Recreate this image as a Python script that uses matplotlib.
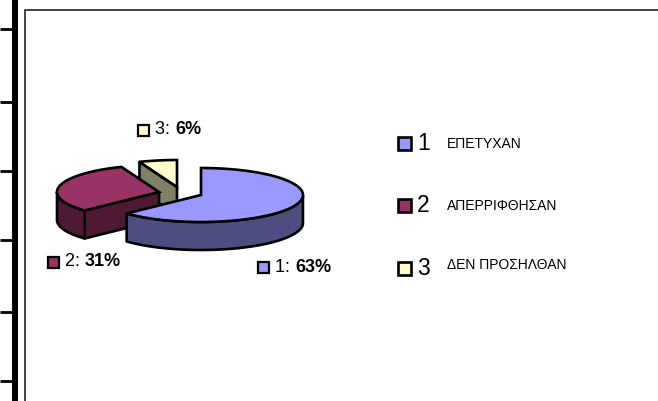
import numpy as np
import matplotlib
matplotlib.use('Agg')
import matplotlib.pyplot as plt
from matplotlib.patches import Polygon, Rectangle

plt.rcParams['font.family'] = ['Liberation Sans', 'DejaVu Sans']

categories = ['1', '2', '3']
names = ['ΕΠΕΤΥΧΑΝ', 'ΑΠΕΡΡΙΦΘΗΣΑΝ', 'ΔΕΝ ΠΡΟΣΗΛΘΑΝ']
percent = [63, 31, 6]
colors = ['#9999FF', '#993366', '#FFFFCC']
dark = ['#4D4D80', '#4D1933', '#808066']
# exploded slice centres, in pixels
centres = [(201, 195), (159, 192), (177, 187)]
label_pos = [(258, 267), (48, 262), (138, 130)]
legend_y = [143, 205, 268]
name_y = [144, 206, 265]
tick_y = [29, 102, 171, 240, 312, 381]

RX, RY, DEPTH = 102, 27, 28

fig = plt.figure(figsize=(6.58, 4.01), dpi=100)
ax = fig.add_axes([0, 0, 1, 1])
ax.set_xlim(0, 658)
ax.set_ylim(401, 0)
ax.axis('off')

# page furniture
ax.add_patch(Rectangle((12, 0), 6, 401, fc='black', ec='none'))
for y in tick_y:
    ax.plot([0, 12], [y, y], color='black', lw=2, solid_capstyle='butt')
ax.plot([25, 25, 658], [401, 9.5, 9.5], color='#222222', lw=1.2)


def pt(c, a, dz=0):
    return (c[0] + RX * np.sin(a), c[1] - RY * np.cos(a) + dz)


# clockwise from 12 o'clock
edges = np.cumsum([0] + percent) / sum(percent) * 2 * np.pi
order = [2, 1, 0]
for i in order:
    c = centres[i]
    a0, a1 = edges[i], edges[i + 1]
    arc = np.linspace(a0, a1, 120)
    z = 2 + (2 - i)
    # cut face, seen on the slices left of the centre
    if i in (1, 2):
        face = [c, pt(c, a0), pt(c, a0, DEPTH), (c[0], c[1] + DEPTH)]
        ax.add_patch(Polygon(face, fc=dark[i], ec='black', lw=1.9, joinstyle='round', zorder=z))
    # outer rim, only the front half of the ellipse
    front = arc[(np.cos(arc) <= 0)]
    if len(front) > 1:
        top = [pt(c, a) for a in front]
        low = [pt(c, a, DEPTH) for a in front[::-1]]
        ax.add_patch(Polygon(top + low, fc=dark[i], ec='black', lw=1.9, joinstyle='round', zorder=z))
    # top of the slice
    ax.add_patch(Polygon([c] + [pt(c, a) for a in arc], fc=colors[i], ec='black', lw=1.9,
                         joinstyle='miter', zorder=z + 0.1))

# data labels
fig.canvas.draw()
rend = fig.canvas.get_renderer()
for i in range(3):
    x, y = label_pos[i]
    ax.add_patch(Rectangle((x, y - 5.5), 11, 11, fc=colors[i], ec='black', lw=1.6, zorder=6))
    t = ax.text(x + 17, y, categories[i] + ': ', fontsize=13, va='center', ha='left', zorder=6)
    w = t.get_window_extent(rend).width
    ax.text(x + 17 + w, y, str(percent[i]) + '%', fontsize=13, fontweight='bold',
            va='center', ha='left', zorder=6)

# legend
for i in range(3):
    ax.add_patch(Rectangle((398, legend_y[i] - 6), 13, 13, fc=colors[i], ec='black', lw=1.9, zorder=6))
    ax.text(417, legend_y[i] + 0.5, categories[i], fontsize=16.5, va='center', ha='left')
    ax.text(447, name_y[i], names[i], fontsize=10, va='center', ha='left')

fig.savefig('out.png', dpi=100)
